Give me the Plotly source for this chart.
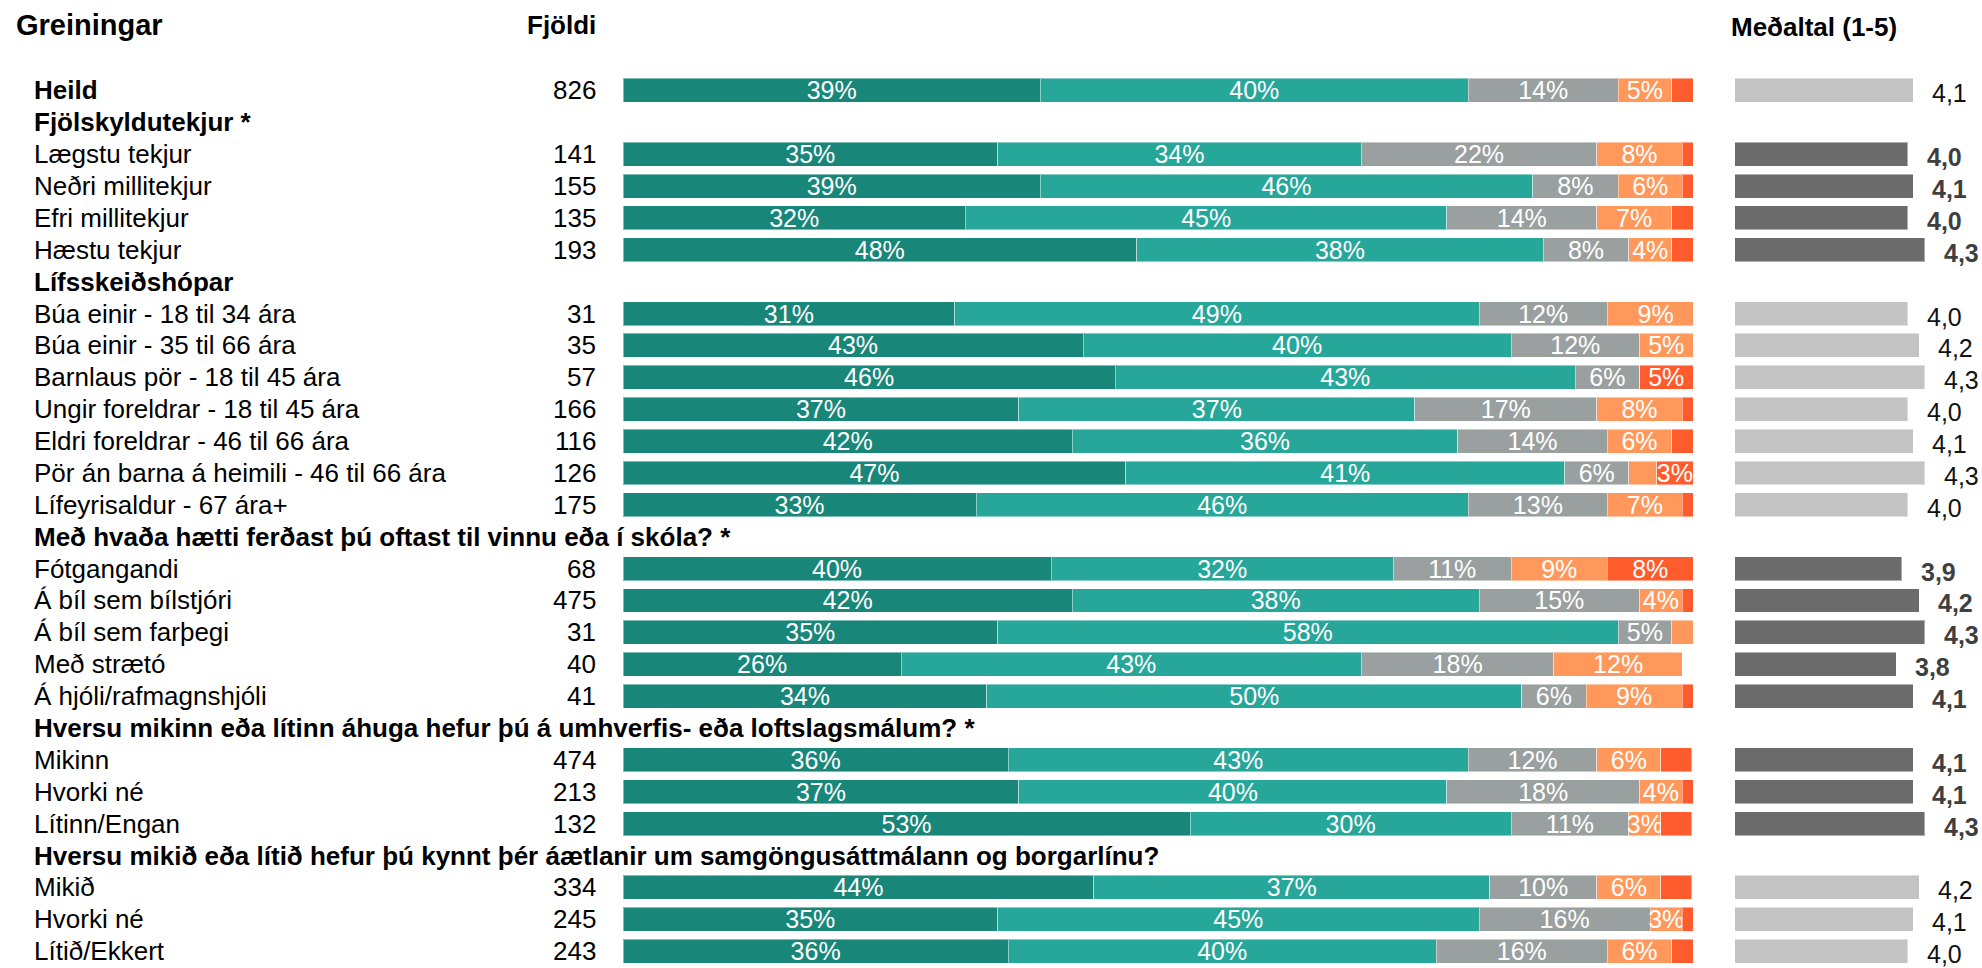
import plotly.graph_objects as go

# Row labels (group headers mixed with sub-groups), top to bottom
rows = [
    "Heild",
    "Fjölskyldutekjur *",
    "Lægstu tekjur", "Neðri millitekjur", "Efri millitekjur", "Hæstu tekjur",
    "Lífsskeiðshópar",
    "Búa einir - 18 til 34 ára", "Búa einir - 35 til 66 ára", "Barnlaus pör - 18 til 45 ára",
    "Ungir foreldrar - 18 til 45 ára", "Eldri foreldrar - 46 til 66 ára",
    "Pör án barna á heimili - 46 til 66 ára", "Lífeyrisaldur - 67 ára+",
    "Með hvaða hætti ferðast þú oftast til vinnu eða í skóla? *",
    "Fótgangandi", "Á bíl sem bílstjóri", "Á bíl sem farþegi", "Með strætó", "Á hjóli/rafmagnshjóli",
    "Hversu mikinn eða lítinn áhuga hefur þú á umhverfis- eða loftslagsmálum? *",
    "Mikinn", "Hvorki né", "Lítinn/Engan",
    "Hversu mikið eða lítið hefur þú kynnt þér áætlanir um samgöngusáttmálann og borgarlínu?",
    "Mikið", "Hvorki né", "Lítið/Ekkert",
]
header_rows = [1, 6, 14, 20, 24]
bold_rows = [0] + header_rows

fjoldi = [826, None, 141, 155, 135, 193, None, 31, 35, 57, 166, 116, 126, 175,
          None, 68, 475, 31, 40, 41, None, 474, 213, 132, None, 334, 245, 243]

# Answer shares (%), from most positive to most negative
mjog_jakvaett = [39, None, 35, 39, 32, 48, None, 31, 43, 46, 37, 42, 47, 33,
                 None, 40, 42, 35, 26, 34, None, 36, 37, 53, None, 44, 35, 36]
jakvaett = [40, None, 34, 46, 45, 38, None, 49, 40, 43, 37, 36, 41, 46,
            None, 32, 38, 58, 43, 50, None, 43, 40, 30, None, 37, 45, 40]
hlutlaust = [14, None, 22, 8, 14, 8, None, 12, 12, 6, 17, 14, 6, 13,
             None, 11, 15, 5, 18, 6, None, 12, 18, 11, None, 10, 16, 16]
neikvaett = [5, None, 8, 6, 7, 4, None, 9, 5, 0, 8, 6, 2.6, 7,
             None, 9, 4, 2, 12, 9, None, 6, 4, 3, None, 6, 3, 6]
mjog_neikvaett = [2, None, 1, 1, 2, 2, None, 0, 0, 5, 1, 2, 3.4, 1,
                  None, 8, 1, 0, 0, 1, None, 2.9, 1, 2.9, None, 2.9, 1, 2]

# Mean on a 1-5 scale
medaltal = [4.1, None, 4.0, 4.1, 4.0, 4.3, None, 4.0, 4.2, 4.3, 4.0, 4.1, 4.3, 4.0,
            None, 3.9, 4.2, 4.3, 3.8, 4.1, None, 4.1, 4.1, 4.3, None, 4.2, 4.1, 4.0]
# Groups with a significant difference get the dark mean bar
marktaekt = [False, None, True, True, True, True, None, False, False, False, False, False, False, False,
             None, True, True, True, True, True, None, True, True, True, None, False, False, False]

series = [
    ("Mjög jákvætt", mjog_jakvaett, "#19867A"),
    ("Jákvætt", jakvaett, "#27A69A"),
    ("Hlutlaust", hlutlaust, "#9AA09F"),
    ("Neikvætt", neikvaett, "#FF985A"),
    ("Mjög neikvætt", mjog_neikvaett, "#FF5B2C"),
]

W, H = 1982, 968
FONT = "Liberation Sans, Arial, sans-serif"
ypos = list(range(len(rows)))

fig = go.Figure()

# Segments under 3% are left without a label
for name, vals, col in series:
    texts = ["" if (v is None or v < 3) else f"{round(v)}%" for v in vals]
    fig.add_trace(go.Bar(
        y=ypos, x=vals, orientation="h", name=name,
        marker=dict(color=col, line=dict(color="rgba(255,255,255,0.45)", width=1)),
        width=0.75,
        text=texts, textposition="inside", insidetextanchor="middle",
        textangle=0, constraintext="none",
        textfont=dict(family=FONT, size=25, color="white"),
        xaxis="x", yaxis="y", showlegend=False, hoverinfo="skip",
    ))

# Mean bars: the axis starts at 1, so each bar runs from the scale minimum to its mean
mean_colors = ["rgba(0,0,0,0)" if m is None else ("#6B6B6B" if m else "#C3C3C3") for m in marktaekt]
fig.add_trace(go.Bar(
    y=ypos, x=medaltal, orientation="h",
    marker=dict(color=mean_colors, line=dict(color="rgba(255,255,255,0.45)", width=1)),
    width=0.75, xaxis="x2", yaxis="y", showlegend=False, hoverinfo="skip",
))

annotations = []

def px_x(px):
    return px / W

def px_y(py):
    return 1 - py / H

# Column headings
annotations.append(dict(text="Greiningar", x=px_x(14), y=px_y(25), xref="paper", yref="paper",
                        xanchor="left", yanchor="middle", showarrow=False,
                        font=dict(family=FONT, size=29, color="black", weight="bold")))
annotations.append(dict(text="Fjöldi", x=px_x(598), y=px_y(25), xref="paper", yref="paper",
                        xanchor="right", yanchor="middle", showarrow=False,
                        font=dict(family=FONT, size=26, color="black", weight="bold")))
annotations.append(dict(text="Meðaltal (1-5)", x=px_x(1729), y=px_y(27), xref="paper", yref="paper",
                        xanchor="left", yanchor="middle", showarrow=False,
                        font=dict(family=FONT, size=26, color="black", weight="bold")))

for i, label in enumerate(rows):
    bold = i in bold_rows
    annotations.append(dict(text=label, x=px_x(32), y=i, xref="paper", yref="y",
                            xanchor="left", yanchor="middle", showarrow=False,
                            font=dict(family=FONT, size=26, color="black",
                                      weight="bold" if bold else "normal")))
    if fjoldi[i] is not None:
        annotations.append(dict(text=str(fjoldi[i]), x=px_x(598), y=i, xref="paper", yref="y",
                                xanchor="right", yanchor="middle", showarrow=False,
                                font=dict(family=FONT, size=26, color="black")))
    if medaltal[i] is not None:
        dark = marktaekt[i]
        annotations.append(dict(text=f"{medaltal[i]:.1f}".replace(".", ","),
                                x=medaltal[i], y=i, xref="x2", yref="y",
                                xanchor="left", yanchor="middle", xshift=17, yshift=-3,
                                showarrow=False,
                                font=dict(family=FONT, size=25,
                                          color="#3F3F3F" if dark else "#111111",
                                          weight="bold" if dark else "normal")))

row_px = 31.88
top_px = 90.4
y_top = -top_px / row_px
y_bottom = y_top + H / row_px

fig.update_layout(
    width=W, height=H,
    margin=dict(l=0, r=0, t=0, b=0),
    paper_bgcolor="white", plot_bgcolor="white",
    barmode="stack",
    uniformtext=dict(minsize=25, mode="show"),
    xaxis=dict(domain=[px_x(623), px_x(1693)], range=[0, 100], visible=False, fixedrange=True),
    xaxis2=dict(domain=[px_x(1735), px_x(1965)], range=[1, 5], visible=False,
                anchor="y", fixedrange=True),
    yaxis=dict(range=[y_bottom, y_top], visible=False, fixedrange=True),
    annotations=annotations,
)

fig.write_html("out.html")
